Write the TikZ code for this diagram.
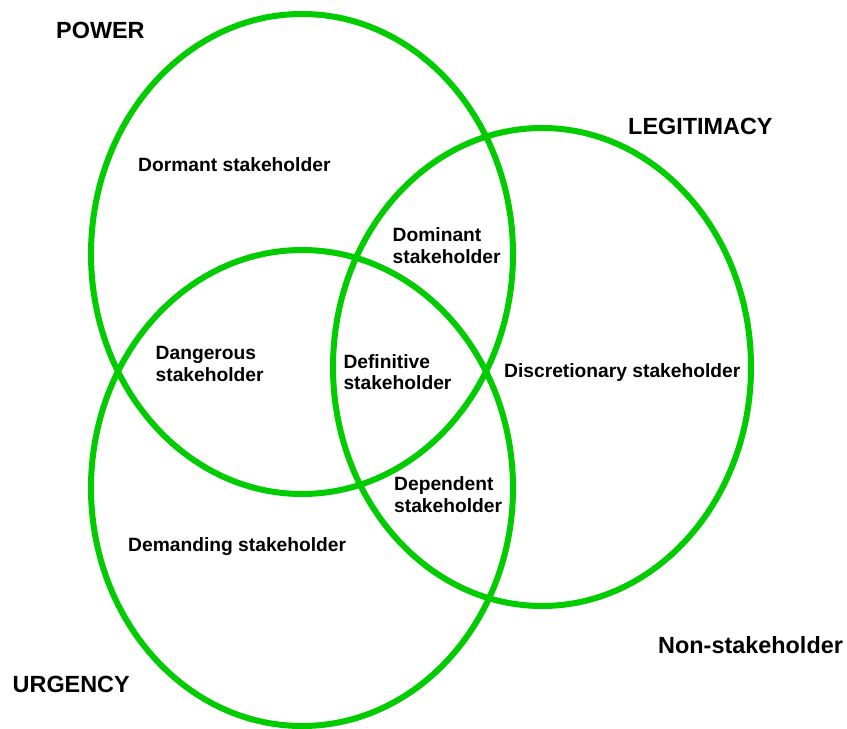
\documentclass[tikz,border=0pt]{standalone}
\usepackage{fontspec}
\setmainfont{Liberation Sans}
\definecolor{vgreen}{HTML}{00CC00}
\begin{document}
\begin{tikzpicture}[x=1bp,y=-1bp,
  ring/.style={draw=vgreen,line width=6bp},
  biglabel/.style={inner sep=0pt,anchor=base west,font=\bfseries\fontsize{23.5}{28}\selectfont},
  lbl/.style={inner sep=0pt,anchor=base west,align=left,font=\bfseries\fontsize{19.3}{21.5}\selectfont}]
\fill[white] (0,0) rectangle (847,729);
\useasboundingbox (0,0) rectangle (847,729);
% circles
\draw[ring] (302,254) ellipse [x radius=211bp, y radius=240bp];
\draw[ring] (542,367) ellipse [x radius=209bp, y radius=239bp];
\draw[ring] (302,488) ellipse [x radius=211bp, y radius=238bp];
% set names
\node[biglabel] (power) at (56,38.5) {POWER};
\node[biglabel] (legit) at (628,135) {LEGITIMACY};
\node[biglabel] (urgency) at (12.5,692) {URGENCY};
\node[biglabel] (non) at (658,653) {Non-stakeholder};
% regions (multi-line nodes: base = baseline of last line)
\node[lbl] (dormant) at (138,171) {Dormant stakeholder};
\node[lbl] (dominant) at (392.5,263.3) {Dominant\\stakeholder};
\node[lbl] (dangerous) at (155.5,381) {Dangerous\\stakeholder};
\node[lbl] (definitive) at (343.3,389.5) {Definitive\\stakeholder};
\node[lbl] (discretionary) at (504,377.5) {Discretionary stakeholder};
\node[lbl] (dependent) at (394,512) {Dependent\\stakeholder};
\node[lbl] (demanding) at (128,551.7) {Demanding stakeholder};
\end{tikzpicture}
\end{document}
